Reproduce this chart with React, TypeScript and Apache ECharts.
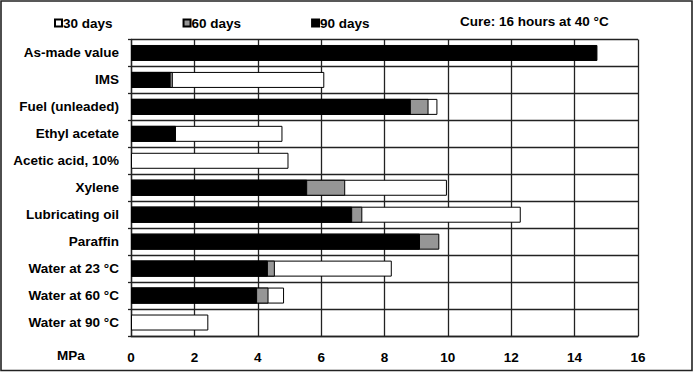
import React, { useEffect, useRef } from "react";
import * as echarts from "echarts";

const categories = [
  "As-made value",
  "IMS",
  "Fuel (unleaded)",
  "Ethyl acetate",
  "Acetic acid, 10%",
  "Xylene",
  "Lubricating oil",
  "Paraffin",
  "Water at 23 °C",
  "Water at 60 °C",
  "Water at 90 °C",
];

const days30 = [null, 6.1, 9.67, 4.78, 4.97, 9.97, 12.3, null, 8.23, 4.83, 2.44];
const days60 = [null, 1.32, 9.39, null, null, 6.76, 7.3, 9.73, 4.54, 4.34, null];
const days90 = [14.72, 1.25, 8.83, 1.42, null, 5.56, 6.98, 9.12, 4.32, 3.98, null];

const xTicks = { min: 0, max: 16, interval: 2 };

const FONT = "'Liberation Sans', Arial, Helvetica, sans-serif";
const FS = 13.5;

export default function App() {
  const ref = useRef<HTMLDivElement>(null);
  useEffect(() => {
    if (!ref.current) return;
    const chart = echarts.init(ref.current, undefined, { renderer: "svg" });
    const barCommon = {
      type: "bar" as const,
      barWidth: 16,
      barGap: "-100%",
      itemStyle: { borderColor: "#000", borderWidth: 1 },
    };
    chart.setOption({
      animation: false,
      backgroundColor: "#fff",
      textStyle: { fontFamily: FONT },
      title: {
        text: "Cure: 16 hours at 40 °C",
        left: 460,
        top: 14,
        padding: 0,
        textStyle: { fontFamily: FONT, fontSize: FS, fontWeight: "bold", color: "#000" },
      },
      legend: {
        left: 54,
        top: 16,
        padding: 0,
        itemWidth: 7,
        itemHeight: 7,
        itemGap: 70,
        icon: "rect",
        data: ["30 days", "60 days", "90 days"],
        textStyle: {
          fontFamily: FONT,
          fontSize: FS,
          fontWeight: "bold",
          color: "#000",
          padding: [0, 0, 0, -4],
        },
      },
      grid: { left: 131, right: 55, top: 39.5, bottom: 36, containLabel: false },
      xAxis: {
        type: "value",
        min: xTicks.min,
        max: xTicks.max,
        interval: xTicks.interval,
        axisLine: { show: true, lineStyle: { color: "#222", width: 1.3 } },
        axisTick: { show: false },
        splitLine: { show: true, lineStyle: { color: "#222", width: 1.3 } },
        axisLabel: {
          margin: 14,
          fontFamily: FONT,
          fontSize: FS,
          fontWeight: "bold",
          color: "#000",
        },
      },
      yAxis: {
        type: "category",
        data: categories,
        inverse: true,
        axisLine: { show: true, lineStyle: { color: "#222", width: 1.3 } },
        axisTick: { show: true, length: 3, lineStyle: { color: "#222", width: 1.3 } },
        splitLine: { show: true, lineStyle: { color: "#222", width: 1.3 } },
        axisLabel: {
          margin: 12,
          fontFamily: FONT,
          fontSize: FS,
          fontWeight: "bold",
          color: "#000",
        },
      },
      graphic: [
        {
          type: "rect",
          shape: { x: 1, y: 1, width: 691, height: 369.5 },
          style: { fill: "none", stroke: "#222", lineWidth: 1.6 },
          silent: true,
          z: 100,
        },
        {
          type: "text",
          left: 57,
          top: 348,
          style: {
            text: "MPa",
            fontFamily: FONT,
            fontSize: FS,
            fontWeight: "bold",
            fill: "#000",
          },
        },
      ],
      series: [
        { ...barCommon, name: "30 days", data: days30, itemStyle: { ...barCommon.itemStyle, color: "#fff" }, z: 2 },
        { ...barCommon, name: "60 days", data: days60, itemStyle: { ...barCommon.itemStyle, color: "#969696" }, z: 3 },
        { ...barCommon, name: "90 days", data: days90, itemStyle: { ...barCommon.itemStyle, color: "#000" }, z: 4 },
      ],
    });
    return () => chart.dispose();
  }, []);
  return (
    <div
      ref={ref}
      style={{ position: "fixed", left: 0, top: 0, width: 693, height: 372 }}
    />
  );
}
